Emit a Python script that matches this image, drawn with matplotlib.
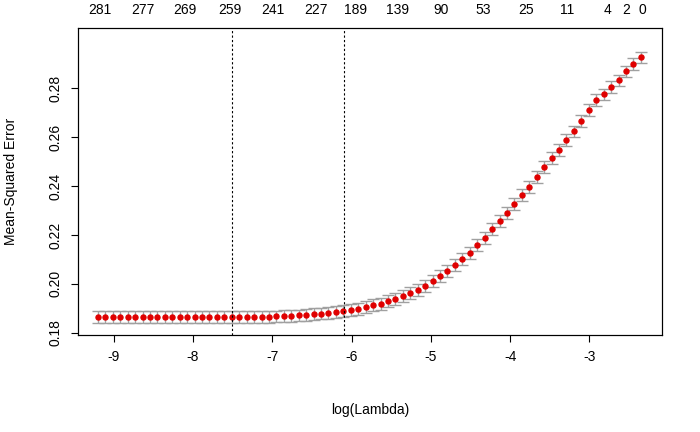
import numpy as np
import matplotlib
matplotlib.use("Agg")
import matplotlib.pyplot as plt

plt.rcParams['font.family'] = ['Liberation Sans', 'DejaVu Sans']

log_lambda = np.linspace(-9.20, -2.35, 74)
mse = [0.1865]*23 + [0.1866, 0.1867, 0.1868, 0.1869, 0.1871, 0.1873, 0.1876, 0.1879, 0.1882, 0.1886,
       0.1890, 0.1894, 0.1898, 0.1905, 0.1913, 0.1917, 0.1929, 0.1938, 0.1950, 0.1962, 0.1974,
       0.1991, 0.2011, 0.2032, 0.2052, 0.2077, 0.2101, 0.2126, 0.2158, 0.2187, 0.2223, 0.2256,
       0.2289, 0.2326, 0.2362, 0.2395, 0.2436, 0.2476, 0.2513, 0.2546, 0.2587, 0.2623, 0.2664,
       0.2709, 0.2750, 0.2774, 0.2803, 0.2831, 0.2868, 0.2897, 0.2925]
se = 0.0024
top_pos = [-9.177, -8.634, -8.104, -7.536, -6.994, -6.451, -5.946, -5.415, -4.872, -4.342,
           -3.799, -3.282, -2.765, -2.53, -2.33]
top_labels = ['281', '277', '269', '259', '241', '227', '189', '139', '90', '53', '25', '11', '4', '2', '0']
vlines = [-7.51, -6.10]
xticks = [-9, -8, -7, -6, -5, -4, -3]
yticks = [0.18, 0.20, 0.22, 0.24, 0.26, 0.28]

fs = 10
fig = plt.figure(figsize=(7, 4.32), dpi=100)
ax = fig.add_axes([0.111, 0.225, 0.835, 0.71])
ax.errorbar(log_lambda, mse, yerr=se, fmt='none', ecolor='#a0a0a0', elinewidth=1, capsize=4.3, capthick=1)
ax.plot(log_lambda, mse, 'o', color='#e00000', ms=3.6, mec='#e00000')
for v in vlines:
    ax.axvline(v, color='black', ls=(0, (2, 2)), lw=0.8)
ax.set_xlim(-9.455, -2.081)
ax.set_ylim(0.1792, 0.3045)
ax.set_xticks(xticks)
ax.set_xticklabels([str(t) for t in xticks], fontsize=fs)
ax.set_yticks(yticks)
ax.set_yticklabels([f'{t:.2f}' for t in yticks], fontsize=fs, rotation=90, va='center')
ax.tick_params(length=5, width=0.8, pad=6)
ax.set_xlabel('log(Lambda)', fontsize=fs, labelpad=28)
ax.set_ylabel('Mean-Squared Error', fontsize=fs, labelpad=22)
for s in ax.spines.values():
    s.set_linewidth(0.8)
ax2 = ax.twiny()
ax2.set_xlim(ax.get_xlim())
ax2.set_xticks(top_pos)
ax2.set_xticklabels(top_labels, fontsize=fs)
ax2.tick_params(length=0, pad=8)
fig.savefig('out.png', dpi=100)
